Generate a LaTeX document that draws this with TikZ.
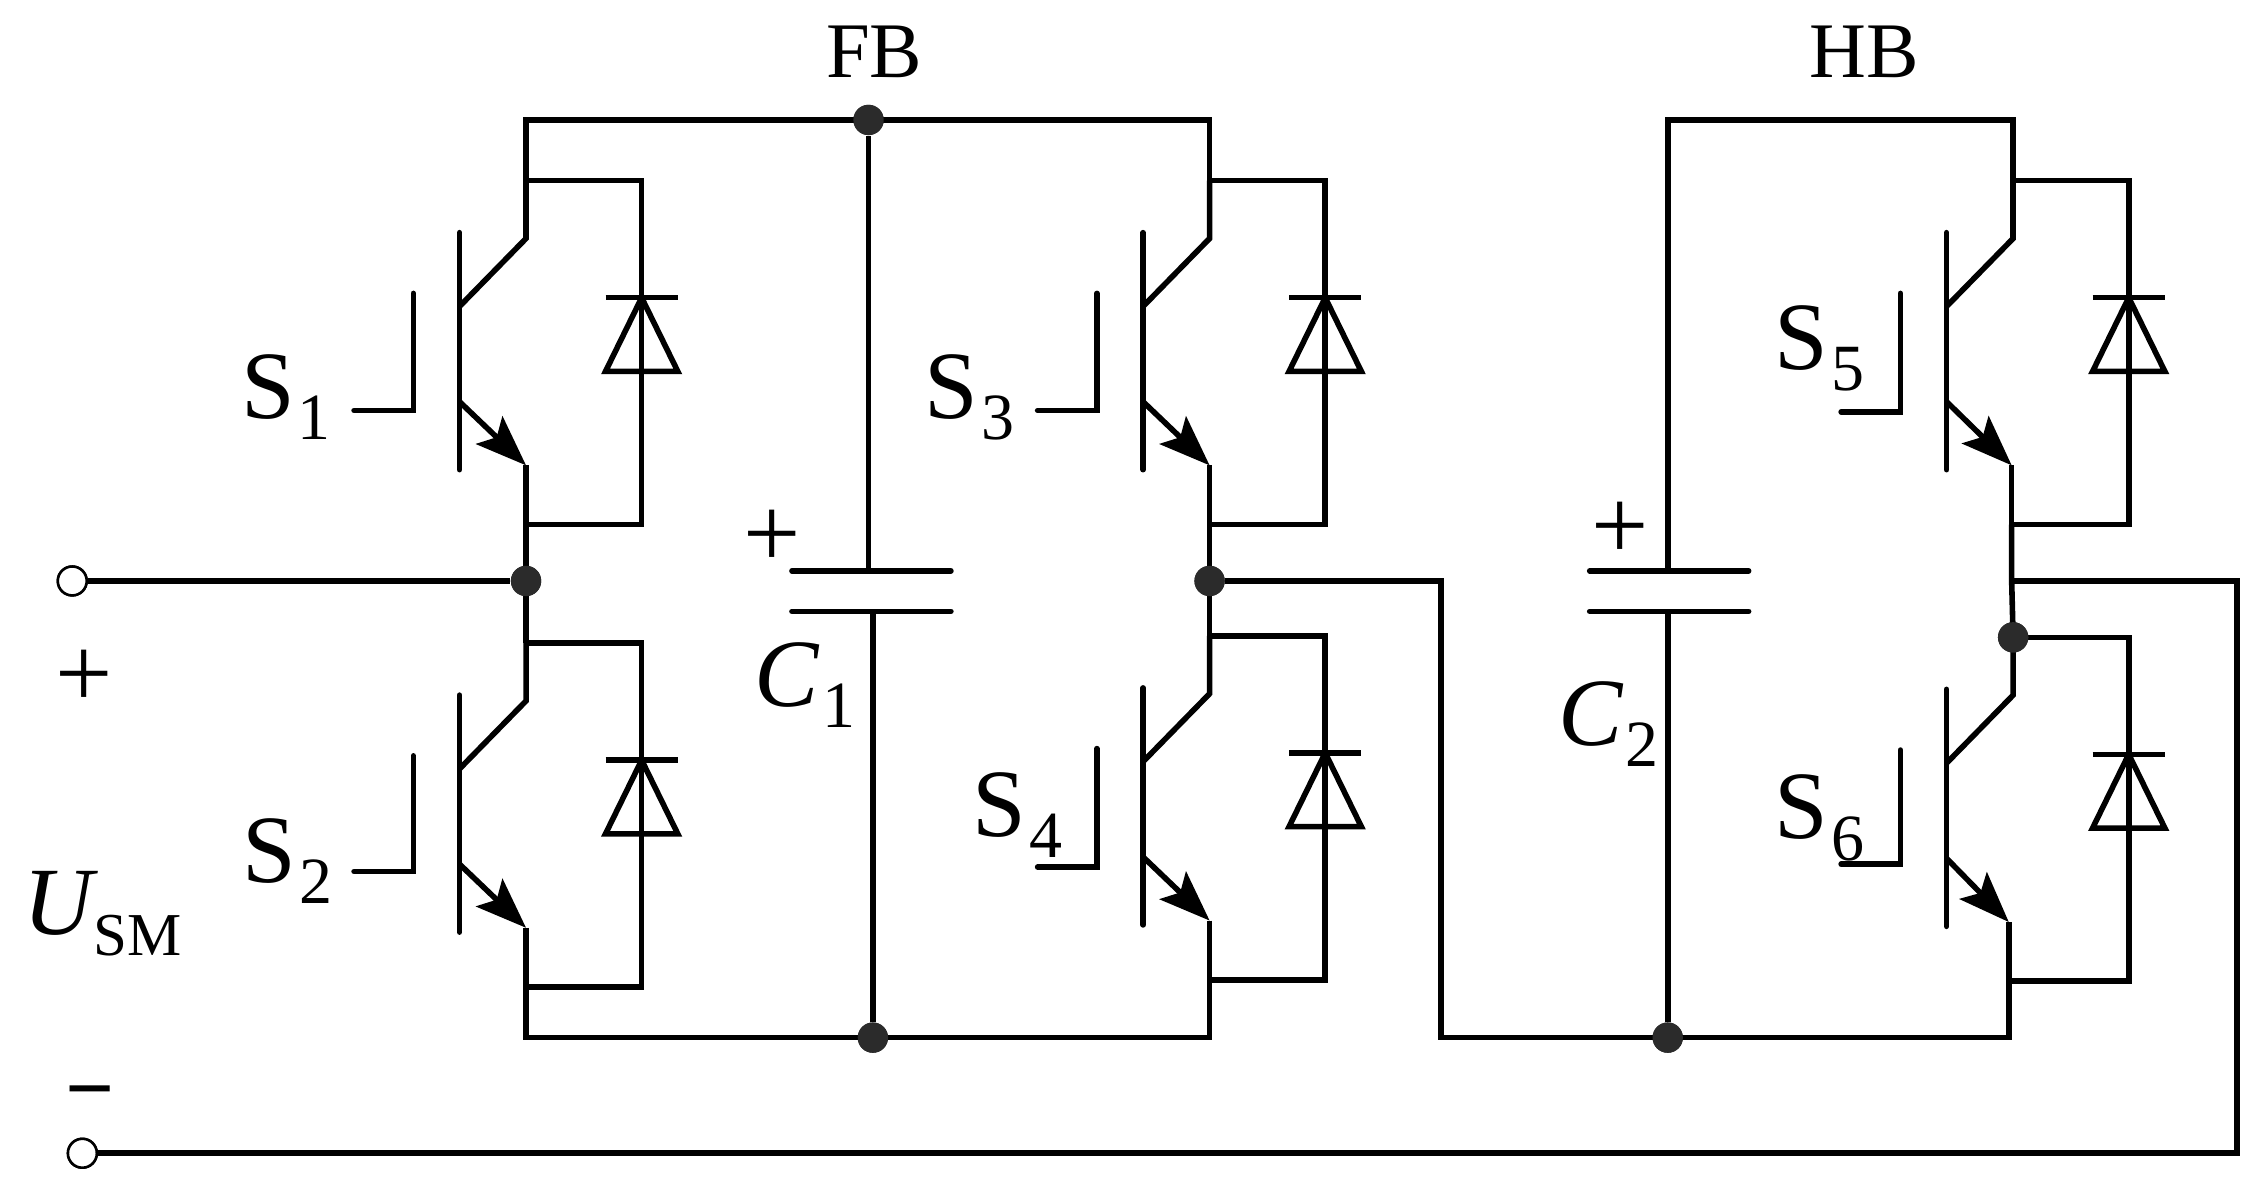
\documentclass[tikz,border=0pt]{standalone}
\usepackage{fontspec}
\setmainfont{Liberation Serif}
\usepackage{xcolor}
\usepackage{tikz}
\usetikzlibrary{arrows.meta}

\definecolor{dotgray}{HTML}{2B2B2B}

\tikzset{
	wire/.style={line width=2.2pt, line join=miter},
	gatebar/.style={line width=2.2pt, line cap=round},
	emitter/.style={line width=2.2pt, -{Stealth[length=20pt, width=15pt, inset=4pt]}},
	junction/.style={circle, fill=dotgray, inner sep=0pt, minimum size=0.42cm},
	terminal/.style={circle, draw=black, fill=white, line width=1pt, inner sep=0pt, minimum size=0.4cm},
	lab/.style={inner sep=0pt, font=\fontsize{38}{40}\selectfont},
	thinsign/.style={inner sep=0pt, font=\fontsize{40}{40}\selectfont},
}

% label with a lowered index
\newcommand{\idx}[2]{#1\kern0.03em\raisebox{-0.22em}{\fontsize{26}{26}\selectfont\upshape #2}}

% one switch: name, collector x, y of the upper branch, gate end y, emitter dx
\newcommand{\igbtcell}[5]{
	\begin{scope}[shift={(#2,#3)}]
		\coordinate (#1top) at (0,0);
		\coordinate (#1stub) at (0,40);
		\coordinate (#1bar) at (-46,87);
		\coordinate (#1barup) at (-46,36);
		\coordinate (#1bardown) at (-46,200);
		\coordinate (#1e) at (-46,153);
		\coordinate (#1ee) at (#5,197);
		\coordinate (#1low) at (#5,238);
		\coordinate (#1dtop) at (80,0);
		\coordinate (#1dlow) at (80,238);
		\coordinate (#1k1) at (55,81);
		\coordinate (#1k2) at (105,81);
		\coordinate (#1k) at (80,81);
		\coordinate (#1a1) at (55,132);
		\coordinate (#1a2) at (105,132);
		\coordinate (#1g1) at (-78,78);
		\coordinate (#1g2) at (-78,#4);
		\coordinate (#1g3) at (-119,#4);
		\draw [wire] (#1top) -- (#1stub) -- (#1bar);
		\draw [gatebar] (#1barup) -- (#1bardown);
		\draw [emitter] (#1e) -- (#1ee);
		\draw [wire] (#1ee) -- (#1low);
		\draw [wire] (#1top) -- (#1dtop) -- (#1dlow) -- (#1low);
		\draw [wire] (#1k1) -- (#1k2);
		\draw [wire] (#1k) -- (#1a2) -- (#1a1) -- cycle;
		\draw [gatebar] (#1g1) -- (#1g2) -- (#1g3);
	\end{scope}
}

\begin{document}
\begin{tikzpicture}[x=0.02cm, y=-0.02cm]
	\path [use as bounding box, fill=white] (0,0) rectangle (1568,816.5);

	% switches
	\igbtcell{sa}{364}{125}{159}{0}
	\igbtcell{sb}{364}{445}{158}{0}
	\igbtcell{sc}{837}{125}{159}{0}
	\igbtcell{sd}{837}{440}{160}{0}
	\igbtcell{se}{1393}{125}{160}{-1}
	\igbtcell{sf}{1393}{441}{157}{-3}

	% points on the rails
	\node (fbtop) [junction] at (601,83) {};
	\node (fbbot) [junction] at (604,718) {};
	\node (midleft) [junction] at (364,402) {};
	\node (midright) [junction] at (837,402) {};
	\node (hbbot) [junction] at (1154,718) {};
	\node (hbmid) [junction] at (1393,441) {};
	\node (inplus) [terminal] at (50,402) {};
	\node (inminus) [terminal] at (57,798) {};

	\coordinate (railaleft) at (364,83);
	\coordinate (railaright) at (837,83);
	\coordinate (railbleft) at (364,718);
	\coordinate (railbright) at (837,718);
	\coordinate (hbleft) at (1154,83);
	\coordinate (hbright) at (1393,83);
	\coordinate (hbend) at (1390,718);
	\coordinate (linkup) at (997,402);
	\coordinate (linkdown) at (997,718);
	\coordinate (outa) at (1392,402);
	\coordinate (outb) at (1548,402);
	\coordinate (outc) at (1548,798);

	% capacitors
	\coordinate (caup) at (601,395);
	\coordinate (calow) at (604,423);
	\coordinate (caupl) at (548,395);
	\coordinate (caupr) at (658,395);
	\coordinate (calowl) at (548,423);
	\coordinate (calowr) at (658,423);
	\coordinate (cbup) at (1154,395);
	\coordinate (cblow) at (1154,423);
	\coordinate (cbupl) at (1100,395);
	\coordinate (cbupr) at (1210,395);
	\coordinate (cblowl) at (1100,423);
	\coordinate (cblowr) at (1210,423);

	% wires
	\draw [wire] (sastub) -- (railaleft) -- (railaright) -- (scstub);
	\draw [wire] (salow) -- (sbtop);
	\draw [wire] (sblow) -- (railbleft) -- (railbright) -- (sdlow);
	\draw [wire] (sclow) -- (sdtop);
	\draw [wire] (inplus) -- (midleft);
	\draw [wire] (midright) -- (linkup) -- (linkdown) -- (hbend) -- (sflow);
	\draw [wire] (sestub) -- (hbright) -- (hbleft) -- (cbup);
	\draw [wire] (selow) -- (outa) -- (sftop);
	\draw [wire] (outa) -- (outb) -- (outc) -- (inminus);
	\draw [wire] (fbtop) -- (caup);
	\draw [wire] (calow) -- (fbbot);
	\draw [wire] (cblow) -- (hbbot);
	\draw [gatebar] (caupl) -- (caupr);
	\draw [gatebar] (calowl) -- (calowr);
	\draw [gatebar] (cbupl) -- (cbupr);
	\draw [gatebar] (cblowl) -- (cblowr);

	% dots and terminals again, above the wires
	\node [junction] at (fbtop) {};
	\node [junction] at (fbbot) {};
	\node [junction] at (midleft) {};
	\node [junction] at (midright) {};
	\node [junction] at (hbbot) {};
	\node [junction] at (hbmid) {};
	\node [terminal] at (inplus) {};
	\node [terminal] at (inminus) {};

	% texts
	\node (fb) [lab, font=\fontsize{31}{33}\selectfont] at (605,36) {FB};
	\node (hb) [lab, font=\fontsize{31}{33}\selectfont] at (1290,36) {HB};
	\node (labsa) [lab] at (198,275) {\idx{S}{1}};
	\node (labsb) [lab] at (199,596) {\idx{S}{2}};
	\node (labsc) [lab] at (671,275) {\idx{S}{3}};
	\node (labsd) [lab] at (704,564) {\idx{S}{4}};
	\node (labse) [lab] at (1259,241) {\idx{S}{5}};
	\node (labsf) [lab] at (1259,566) {\idx{S}{6}};
	\node (labca) [lab] at (557,474) {\idx{\itshape C}{1}};
	\node (labcb) [lab] at (1113,501) {\idx{\itshape C}{2}};
	\node (labu) [lab] at (71,632) {{\itshape U}\raisebox{-0.22em}{\fontsize{24}{24}\selectfont SM}};
	\node (plusa) [thinsign] at (534,373) {+};
	\node (plusb) [thinsign] at (1121,367) {+};
	\node (plusin) [thinsign] at (58,470) {+};
	\node (minusin) [thinsign, font=\fontsize{34}{34}\selectfont\bfseries] at (62,762) {−};
\end{tikzpicture}
\end{document}
